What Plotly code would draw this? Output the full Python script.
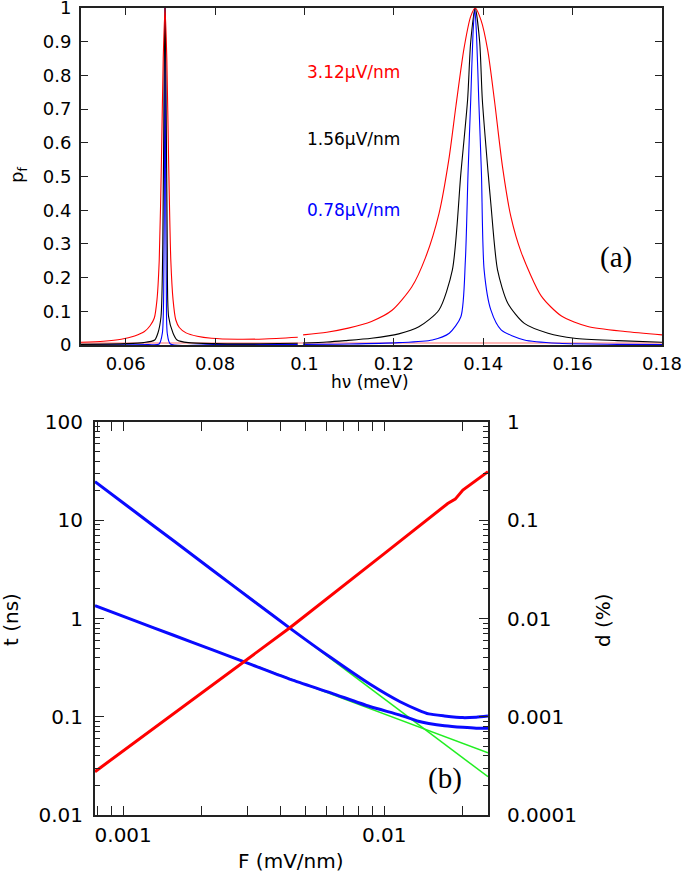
import plotly.graph_objects as go

# ---------------- panel (a) data: p_f versus h nu (meV) ----------------
red_x1 = [0.0500, 0.0550, 0.0590, 0.0620, 0.0642, 0.0655, 0.0664, 0.0670, 0.0675, 0.0680, 0.0684, 0.0688,
          0.0692, 0.0696, 0.0701, 0.0706, 0.0712, 0.0720, 0.0735, 0.0760, 0.0792, 0.0850, 0.0910, 0.0985]
red_p1 = [0.008, 0.011, 0.017, 0.027, 0.040, 0.058, 0.080, 0.134, 0.25, 0.55, 0.85, 1.0,
          0.85, 0.55, 0.25, 0.134, 0.075, 0.052, 0.036, 0.026, 0.020, 0.017, 0.018, 0.023]
red_x2 = [0.0997, 0.1050, 0.1098, 0.1150, 0.1196, 0.1240, 0.1271, 0.1301, 0.1323, 0.1339, 0.1357, 0.1372,
          0.1382, 0.1395, 0.1410, 0.1425, 0.1443, 0.1462, 0.1485, 0.1530, 0.1575, 0.1634, 0.1717, 0.1800]
red_p2 = [0.030, 0.038, 0.050, 0.070, 0.103, 0.172, 0.26, 0.39, 0.55, 0.71, 0.88, 0.975,
          1.0, 0.964, 0.875, 0.727, 0.53, 0.38, 0.275, 0.145, 0.086, 0.055, 0.040, 0.030]

black_x1 = [0.0500, 0.0600, 0.0640, 0.0665, 0.0672, 0.0679, 0.0683, 0.0686, 0.0688, 0.0690, 0.0693, 0.0696,
            0.0706, 0.0715, 0.0740, 0.0800, 0.0900, 0.0985]
black_p1 = [0.002, 0.004, 0.007, 0.015, 0.035, 0.084, 0.30, 0.80, 1.0, 0.80, 0.30, 0.084,
            0.035, 0.015, 0.007, 0.004, 0.0035, 0.005]
black_x2 = [0.0997, 0.1050, 0.1091, 0.1150, 0.1211, 0.1256, 0.1301, 0.1331, 0.1350, 0.1365, 0.1372, 0.1382,
            0.1392, 0.1398, 0.1411, 0.1417, 0.1432, 0.1455, 0.1492, 0.1545, 0.1604, 0.1700, 0.1800]
black_p2 = [0.006, 0.009, 0.013, 0.020, 0.033, 0.054, 0.104, 0.223, 0.51, 0.727, 0.90, 1.0,
            0.90, 0.727, 0.51, 0.42, 0.223, 0.124, 0.064, 0.035, 0.020, 0.013, 0.008]

blue_x1 = [0.0500, 0.0650, 0.0675, 0.0682, 0.0685, 0.0687, 0.0688, 0.0689, 0.0691, 0.0693, 0.0700, 0.0800, 0.0985]
blue_p1 = [0.0005, 0.001, 0.003, 0.035, 0.15, 0.60, 1.0, 0.60, 0.15, 0.035, 0.003, 0.001, 0.0015]
blue_x2 = [0.0997, 0.1100, 0.1211, 0.1286, 0.1324, 0.1350, 0.1360, 0.1366, 0.1372, 0.1377, 0.1381, 0.1385,
           0.1390, 0.1396, 0.1402, 0.1417, 0.1440, 0.1492, 0.1570, 0.1700, 0.1800]
blue_p2 = [0.002, 0.003, 0.007, 0.015, 0.035, 0.084, 0.25, 0.51, 0.727, 0.92, 1.0, 0.92,
           0.727, 0.51, 0.223, 0.104, 0.045, 0.015, 0.005, 0.002, 0.001]

base_x = [0.05, 0.18]
base_p = [0.006, 0.006]

field_labels = ["3.12µV/nm", "1.56µV/nm", "0.78µV/nm"]
field_colors = ["#ff0000", "#000000", "#0000ff"]
field_label_y = [0.81, 0.61, 0.40]

# ---------------- panel (b) data: t (ns) and d (%) versus F (mV/nm) ----------------
F_blue = [0.00078, 0.0011, 0.00156, 0.0022, 0.00312, 0.0044, 0.00624, 0.0088, 0.0115, 0.0135,
          0.0148, 0.0170, 0.0200, 0.0225, 0.02496]
t_upper = [24.7, 12.4, 6.18, 3.10, 1.545, 0.78, 0.40, 0.215, 0.142, 0.117,
           0.107, 0.102, 0.098, 0.099, 0.1016]
t_lower = [1.35, 0.957, 0.675, 0.479, 0.3375, 0.239, 0.175, 0.127, 0.104, 0.090,
           0.0855, 0.081, 0.078, 0.0765, 0.0765]

F_green = [0.00078, 0.02496]
t_green_upper = [24.7, 0.0245]
t_green_lower = [1.35, 0.043]

F_red = [0.00078, 0.00156, 0.00295, 0.00435, 0.0100, 0.01368, 0.0175, 0.0187, 0.0200, 0.02496]
d_red = [0.000276, 0.00108, 0.00372, 0.00805, 0.0457, 0.0874, 0.148, 0.164, 0.203, 0.312]

t_ticks = [0.01, 0.1, 1, 10, 100]
t_ticktext = ["0.01", "0.1", "1", "10", "100"]
d_ticks = [0.0001, 0.001, 0.01, 0.1, 1]
d_ticktext = ["0.0001", "0.001", "0.01", "0.1", "1"]
F_ticks = [0.001, 0.01]
F_ticktext = ["0.001", "0.01"]
hv_ticks = [0.06, 0.08, 0.10, 0.12, 0.14, 0.16, 0.18]
hv_ticktext = ["0.06", "0.08", "0.1", "0.12", "0.14", "0.16", "0.18"]
p_ticks = [0, 0.1, 0.2, 0.3, 0.4, 0.5, 0.6, 0.7, 0.8, 0.9, 1]
p_ticktext = ["0", "0.1", "0.2", "0.3", "0.4", "0.5", "0.6", "0.7", "0.8", "0.9", "1"]

W, H = 685, 878
FONT = "DejaVu Sans"
FRAME = "#222222"

fig = go.Figure()

# panel (a)
fig.add_trace(go.Scatter(x=base_x, y=base_p, mode="lines", line=dict(color="#ff7070", width=1.2),
                         xaxis="x", yaxis="y", showlegend=False))
for xs, ps, col in [(blue_x1, blue_p1, "#0000ff"), (blue_x2, blue_p2, "#0000ff"),
                    (black_x1, black_p1, "#000000"), (black_x2, black_p2, "#000000"),
                    (red_x1, red_p1, "#ff0000"), (red_x2, red_p2, "#ff0000")]:
    fig.add_trace(go.Scatter(x=xs, y=ps, mode="lines",
                             line=dict(color=col, width=1.1, shape="spline", smoothing=0.7),
                             xaxis="x", yaxis="y", showlegend=False, cliponaxis=True))

# panel (b)
fig.add_trace(go.Scatter(x=F_green, y=t_green_upper, mode="lines", line=dict(color="#22ee22", width=1.5),
                         xaxis="x2", yaxis="y2", showlegend=False))
fig.add_trace(go.Scatter(x=F_green, y=t_green_lower, mode="lines", line=dict(color="#22ee22", width=1.5),
                         xaxis="x2", yaxis="y2", showlegend=False))
fig.add_trace(go.Scatter(x=F_blue, y=t_upper, mode="lines", line=dict(color="#0a0aff", width=3, shape="spline", smoothing=0.6),
                         xaxis="x2", yaxis="y2", showlegend=False))
fig.add_trace(go.Scatter(x=F_blue, y=t_lower, mode="lines", line=dict(color="#0a0aff", width=3, shape="spline", smoothing=0.6),
                         xaxis="x2", yaxis="y2", showlegend=False))
fig.add_trace(go.Scatter(x=F_red, y=d_red, mode="lines", line=dict(color="#ff0000", width=3),
                         xaxis="x2", yaxis="y3", showlegend=False))

# domains from pixel positions
ax_a = [81 / W, 662 / W]
ay_a = [(H - 345) / H, (H - 8) / H]
ax_b = [95 / W, 488 / W]
ay_b = [(H - 815) / H, (H - 422) / H]

tickfont = dict(family=FONT, size=18, color="#000000")
tickfont_b = dict(family=FONT, size=20, color="#000000")

fig.update_layout(
    width=W, height=H, margin=dict(l=0, r=0, t=0, b=0, pad=0, autoexpand=False),
    paper_bgcolor="white", plot_bgcolor="white",
    font=dict(family=FONT, color="#000000"),
    xaxis=dict(domain=ax_a, anchor="y", range=[0.05, 0.18], tickvals=hv_ticks, ticktext=hv_ticktext,
               ticks="inside", ticklen=7, tickwidth=1.2, tickcolor=FRAME, mirror="allticks",
               showline=True, linecolor=FRAME, linewidth=2, showgrid=False, zeroline=False,
               tickfont=tickfont, automargin=False, ticklabelstandoff=1, ticklabeloverflow="allow"),
    yaxis=dict(domain=ay_a, anchor="x", range=[0, 1], tickvals=p_ticks, ticktext=p_ticktext,
               ticks="inside", ticklen=7, tickwidth=1.2, tickcolor=FRAME, mirror="allticks",
               showline=True, linecolor=FRAME, linewidth=2, showgrid=False, zeroline=False,
               tickfont=tickfont, automargin=False, ticklabelstandoff=4, ticklabeloverflow="allow"),
    xaxis2=dict(domain=ax_b, anchor="y2", type="log", range=[-3.1079, -1.6027],
                tickvals=F_ticks, ticktext=F_ticktext,
                ticks="inside", ticklen=9, tickwidth=1.2, tickcolor=FRAME, mirror="allticks",
                minor=dict(ticks="inside", ticklen=5, tickwidth=1, tickcolor=FRAME,
                           tickvals=[0.0008, 0.0009, 0.002, 0.003, 0.004, 0.005, 0.006, 0.007, 0.008, 0.009, 0.02]),
                showline=True, linecolor=FRAME, linewidth=2, showgrid=False, zeroline=False,
                tickfont=tickfont_b, automargin=False, ticklabelstandoff=1, ticklabeloverflow="allow"),
    yaxis2=dict(domain=ay_b, anchor="x2", type="log", range=[-2, 2],
                tickvals=t_ticks, ticktext=t_ticktext,
                ticks="inside", ticklen=9, tickwidth=1.2, tickcolor=FRAME, mirror="allticks",
                minor=dict(ticks="inside", ticklen=5, tickwidth=1, tickcolor=FRAME,
                           tickvals=[m * 10 ** e for e in (-2, -1, 0, 1) for m in range(2, 10)]),
                showline=True, linecolor=FRAME, linewidth=2, showgrid=False, zeroline=False,
                tickfont=tickfont_b, automargin=False, ticklabelstandoff=6, ticklabeloverflow="allow"),
    yaxis3=dict(anchor="x2", overlaying="y2", side="right", type="log", range=[-4, 0],
                tickvals=d_ticks, ticktext=d_ticktext, ticks="", showline=False,
                showgrid=False, zeroline=False, tickfont=tickfont_b, automargin=False,
                ticklabelstandoff=18, ticklabeloverflow="allow"),
)

ann = []
for txt, col, yy in zip(field_labels, field_colors, field_label_y):
    ann.append(dict(x=305 / W, y=(H - (8 + (1 - yy) * 337)) / H, xref="paper", yref="paper",
                    text=txt, showarrow=False, xanchor="left", yanchor="middle",
                    font=dict(family=FONT, size=17, color=col)))


def label(px, py, text, size, family=FONT, angle=0):
    return dict(x=px / W, y=(H - py) / H, xref="paper", yref="paper", text=text, showarrow=False,
                xanchor="center", yanchor="middle", textangle=angle,
                font=dict(family=family, size=size, color="#000000"))


ann += [
    label(616, 257, "(a)", 29, "Liberation Serif"),
    label(445, 778, "(b)", 29, "Liberation Serif"),
    label(370, 382, "hν (meV)", 17),
    label(18, 175, "p<sub>f</sub>", 18, angle=-90),
    label(291, 861, "F (mV/nm)", 20),
    label(11, 620, "t (ns)", 20, angle=-90),
    label(603, 620, "d (%)", 20, angle=-90),
]
fig.update_layout(annotations=ann)

fig.write_html("out.html", config={"displayModeBar": False},
               post_script="document.body.style.margin='0';document.body.style.overflow='hidden';")
